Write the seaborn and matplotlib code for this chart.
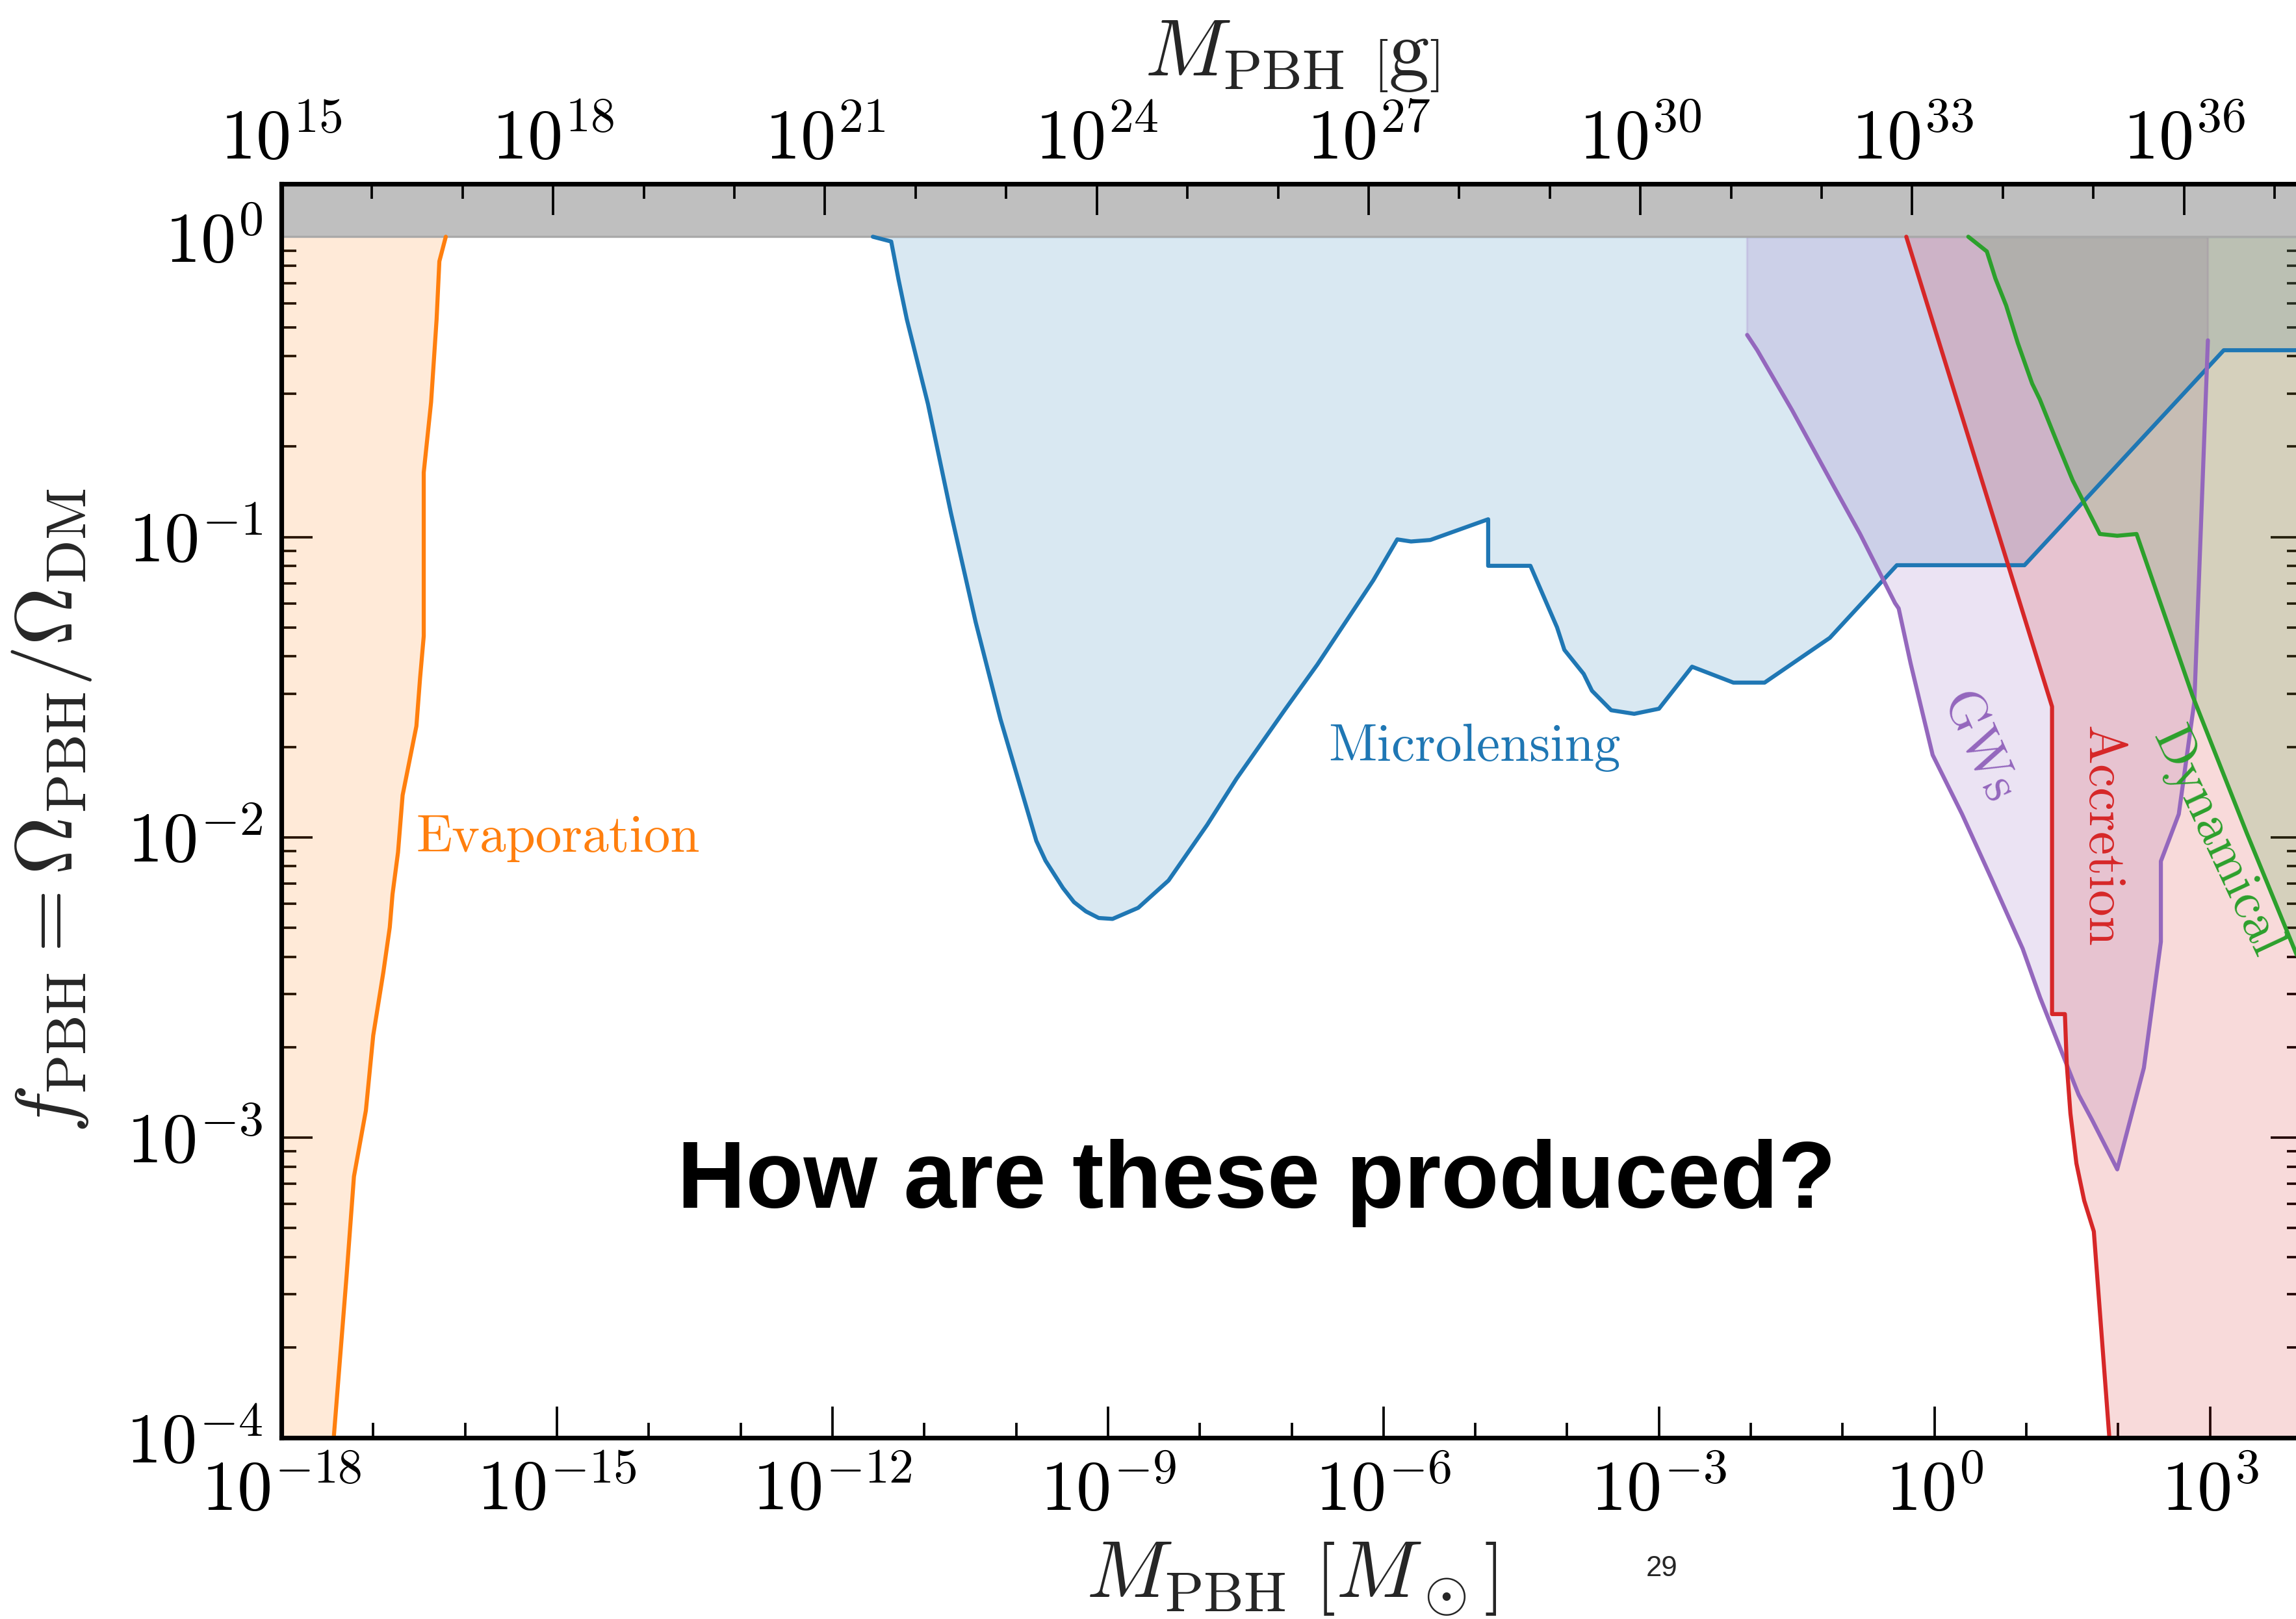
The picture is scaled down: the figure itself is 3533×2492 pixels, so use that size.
import numpy as np
import matplotlib
matplotlib.use("Agg")
import matplotlib.pyplot as plt
from matplotlib.ticker import FixedLocator, FuncFormatter, LogLocator, NullFormatter
import seaborn as sns

# Constraint curves: log10(M_PBH / M_sun) and log10(f_PBH)
evap_logM = [-17.43, -17.29, -17.21, -17.08, -17.00, -16.89, -16.82, -16.79, -16.73,
             -16.68, -16.53, -16.49, -16.45, -16.45, -16.37, -16.31, -16.28, -16.21]
evap_logf = [-4.00, -3.46, -3.13, -2.91, -2.66, -2.45, -2.30, -2.19, -2.05,
             -1.86, -1.63, -1.47, -1.33, -0.785, -0.551, -0.275, -0.082, 0.0]

ml_logM = [-11.56, -11.36, -11.28, -11.19, -10.96, -10.71, -10.44, -10.17, -9.78, -9.68,
           -9.49, -9.37, -9.24, -9.10, -8.95, -8.67, -8.34, -7.92, -7.60, -7.07,
           -6.72, -6.11, -5.85, -5.70, -5.49, -4.86, -4.86, -4.40, -4.11, -4.03,
           -3.82, -3.73, -3.52, -3.27, -3.00, -2.64, -2.19, -1.85, -1.14, -0.41,
           0.98, 3.15, 4.00]
ml_logf = [0.0, -0.016, -0.143, -0.275, -0.557, -0.920, -1.284, -1.607, -2.012, -2.078,
           -2.169, -2.216, -2.247, -2.269, -2.272, -2.235, -2.144, -1.959, -1.805, -1.574,
           -1.425, -1.144, -1.008, -1.015, -1.010, -0.941, -1.096, -1.096, -1.301, -1.376,
           -1.456, -1.512, -1.577, -1.589, -1.572, -1.432, -1.485, -1.485, -1.336, -1.094,
           -1.094, -0.378, -0.378]

gw_logM = [-2.04, -1.93, -1.55, -1.085, -0.81, -0.43, -0.39, -0.26, -0.14, -0.02,
           0.30, 0.62, 0.96, 1.15, 1.57, 1.715, 1.99, 2.28, 2.465, 2.465,
           2.66, 2.83, 2.977]
gw_logf = [-0.327, -0.378, -0.578, -0.838, -0.990, -1.220, -1.238, -1.421, -1.574, -1.726,
           -1.923, -2.138, -2.371, -2.534, -2.858, -2.941, -3.106, -2.768, -2.348, -2.080,
           -1.923, -1.547, -0.345]

acc_logM = [-0.307, 1.28, 1.28, 1.42, 1.44, 1.48, 1.545, 1.63, 1.735, 1.904]
acc_logf = [0.0, -1.565, -2.589, -2.589, -2.755, -2.920, -3.086, -3.210, -3.313, -4.0]

dyn_logM = [0.368, 0.57, 0.663, 0.78, 0.907, 1.063, 1.147, 1.336, 1.504, 1.80,
            1.99, 2.20, 2.81, 3.40, 3.94, 4.00]
dyn_logf = [0.0, -0.049, -0.139, -0.229, -0.354, -0.489, -0.542, -0.686, -0.811, -0.990,
            -0.996, -0.990, -1.529, -1.986, -2.389, -2.430]

X_LIM = (1e-18, 1e4)        # solar masses
G_LIM = (1e15, 2e37)        # grams
Y_LIM = (1e-4, 1.5)

sns.set_theme(style="ticks")
plt.rcParams.update({
    "mathtext.fontset": "cm",
    "font.family": ["cmr10", "DejaVu Serif"],
    "axes.edgecolor": "black",
    "xtick.color": "black",
    "ytick.color": "black",
})
pal = sns.color_palette("tab10")
blue, orange, green, red, purple = pal[0], pal[1], pal[2], pal[3], pal[4]

W, H, DPI = 3533, 2492, 300
fig = plt.figure(figsize=(W / DPI, H / DPI), dpi=DPI)
fig.patch.set_facecolor("white")
ax = fig.add_axes([433 / W, 1 - 2213 / H, (3542 - 433) / W, (2213 - 283) / H])
ax.set_xscale("log")
ax.set_yscale("log")
ax.set_xlim(*X_LIM)
ax.set_ylim(*Y_LIM)


def pw(a):
    return 10.0 ** np.asarray(a, dtype=float)


LW = 1.5
FA = 0.17

# Evaporation: excluded to the left of the curve
M, f = pw(evap_logM), pw(evap_logf)
ax.fill_betweenx(f, X_LIM[0], M, color=orange, alpha=0.16, lw=0, zorder=1)
sns.lineplot(x=M, y=f, sort=False, estimator=None, color=orange, lw=LW, ax=ax, zorder=4)

# Microlensing: excluded above the curve
M, f = pw(ml_logM), pw(ml_logf)
ax.fill_between(M, f, 1.0, color=blue, alpha=FA, lw=0.8, zorder=1)
sns.lineplot(x=M, y=f, sort=False, estimator=None, color=blue, lw=LW, ax=ax, zorder=4)

# Gravitational waves: closed region reaching up to f = 1
M, f = pw(gw_logM), pw(gw_logf)
ax.fill(np.r_[M[0], M, M[-1]], np.r_[1.0, f, 1.0], facecolor=purple, edgecolor=purple,
        alpha=0.18, lw=0.8, zorder=1)
sns.lineplot(x=M, y=f, sort=False, estimator=None, color=purple, lw=LW, ax=ax, zorder=4)

# Accretion: excluded to the right of the curve
M, f = pw(acc_logM), pw(acc_logf)
ax.fill_betweenx(f, M, X_LIM[1], color=red, alpha=FA, lw=0, zorder=1)
sns.lineplot(x=M, y=f, sort=False, estimator=None, color=red, lw=LW, ax=ax, zorder=4)

# Dynamical: excluded to the right of the curve
M, f = pw(dyn_logM), pw(dyn_logf)
ax.fill_betweenx(f, M, X_LIM[1], color=green, alpha=FA, lw=0, zorder=1)
sns.lineplot(x=M, y=f, sort=False, estimator=None, color=green, lw=LW, ax=ax, zorder=4)

# f_PBH > 1 band
ax.axhspan(1.0, Y_LIM[1], facecolor="#bfbfbf", edgecolor="#a9a9a9", lw=0.8, zorder=2)


def pow10(v, pos=None):
    return r"$10^{%d}$" % int(round(np.log10(v)))


TICK_FS = 26
ax.xaxis.set_major_locator(FixedLocator(pw(np.arange(-18, 4, 3))))
ax.xaxis.set_minor_locator(FixedLocator(pw(np.arange(-18, 5))))
ax.xaxis.set_major_formatter(FuncFormatter(pow10))
ax.xaxis.set_minor_formatter(NullFormatter())
ax.yaxis.set_major_locator(LogLocator(base=10, numticks=20))
ax.yaxis.set_minor_locator(LogLocator(base=10, subs=np.arange(2, 10), numticks=100))
ax.yaxis.set_major_formatter(FuncFormatter(pow10))
ax.yaxis.set_minor_formatter(NullFormatter())
ax.tick_params(which="both", direction="in", top=False, bottom=True, left=True, right=True,
               width=0.9, labelsize=TICK_FS, color="black")
ax.tick_params(which="major", length=11.5)
ax.tick_params(which="minor", length=5.5)
ax.tick_params(axis="x", which="major", pad=8)
ax.tick_params(axis="y", which="major", pad=7)

ax2 = ax.twiny()
ax2.set_xscale("log")
ax2.set_xlim(*G_LIM)
ax2.xaxis.set_major_locator(FixedLocator(pw(np.arange(15, 37, 3))))
ax2.xaxis.set_minor_locator(FixedLocator(pw(np.arange(15, 38))))
ax2.xaxis.set_major_formatter(FuncFormatter(pow10))
ax2.xaxis.set_minor_formatter(NullFormatter())
ax2.tick_params(which="both", direction="in", top=True, bottom=False, labeltop=True,
                labelbottom=False, width=0.9, labelsize=TICK_FS, color="black")
ax2.tick_params(which="major", length=11.5, pad=4)
ax2.tick_params(which="minor", length=5.5)

for a in (ax, ax2):
    for s in a.spines.values():
        s.set_linewidth(1.7)
        s.set_color("black")

LAB_FS = 30
ax.set_xlabel(r"$M_{\rm PBH}\ \left[M_\odot\right]$", fontsize=LAB_FS, labelpad=6)
ax2.set_xlabel(r"$M_{\rm PBH}\ \left[{\rm g}\right]$", fontsize=LAB_FS, labelpad=12)
ax.set_ylabel(r"$f_{\rm PBH} = \Omega_{\rm PBH}/\Omega_{\rm DM}$", fontsize=LAB_FS, labelpad=12)

TXT_FS = 19.5
kw = dict(fontsize=TXT_FS, fontfamily="cmr10", zorder=6)
ax.text(pw(-16.535), pw(-2.048), "Evaporation", color=orange, ha="left", va="baseline", **kw)
ax.text(pw(-6.60), pw(-1.745), "Microlensing", color=blue, ha="left", va="baseline", **kw)
ax.text(pw(0.465), pw(-1.704), "GWs", color=purple, ha="center", va="center", rotation=-66, **kw)
ax.text(pw(1.816), pw(-1.998), "Accretion", color=red, ha="center", va="center", rotation=-90, **kw)
ax.text(pw(3.07), pw(-2.017), "Dynamical", color=green, ha="center", va="center", rotation=-65, **kw)

ax.text(pw(-13.69), pw(-3.234), "How are these produced?", fontsize=35, fontweight="bold",
        fontfamily="Liberation Sans", color="black", ha="left", va="baseline", zorder=6)

fig.text(2557 / W, 1 - 2414 / H, "29", fontsize=10.5, fontfamily="Liberation Sans",
         ha="center", va="center")

fig.savefig("out.png", dpi=DPI, facecolor="white")
